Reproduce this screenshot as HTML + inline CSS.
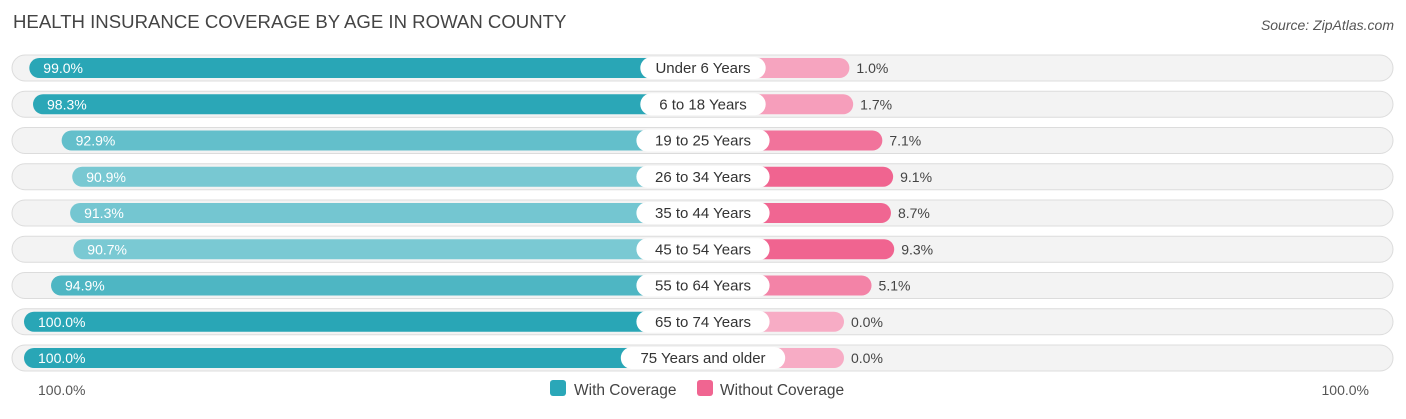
<!DOCTYPE html>
<html><head><meta charset="utf-8"><style>
body{margin:0;background:#fff;font-family:"Liberation Sans",sans-serif;}
</style></head><body>
<svg id="c" width="1406" height="414" style="font-family:'Liberation Sans',sans-serif">
<text x="13" y="28" font-size="18.6" fill="#444">HEALTH INSURANCE COVERAGE BY AGE IN ROWAN COUNTY</text>
<text x="1394" y="30" font-size="14" fill="#555" font-style="italic" text-anchor="end">Source: ZipAtlas.com</text>
<text x="38" y="395" font-size="14" fill="#555">100.0%</text>
<text x="1369" y="395" font-size="14" fill="#555" text-anchor="end">100.0%</text>
<g>
<rect x="550" y="380" width="16" height="16" rx="3" fill="#2aa7b8"/>
<text x="574" y="395" font-size="15.5" fill="#444">With Coverage</text>
<rect x="697" y="380" width="16" height="16" rx="3" fill="#f06591"/>
<text x="720" y="395" font-size="15.5" fill="#444">Without Coverage</text>
</g>
<g id="rows"></g>
</svg>
<script>
const categories=["Under 6 Years","6 to 18 Years","19 to 25 Years","26 to 34 Years","35 to 44 Years","45 to 54 Years","55 to 64 Years","65 to 74 Years","75 Years and older"];
const withCov=[99.0,98.3,92.9,90.9,91.3,90.7,94.9,100.0,100.0];
const withoutCov=[1.0,1.7,7.1,9.1,8.7,9.3,5.1,0.0,0.0];
const NS="http://www.w3.org/2000/svg";
const cx=705, lEdge=24, lScale=5.3, rBase=844, rScale=5.4;
const y0=68, dy=36.25;
function mk(t,a,p){const e=document.createElementNS(NS,t);for(const k in a)e.setAttribute(k,a[k]);p.appendChild(e);return e;}
function mix(a,b,t){t=Math.max(0,Math.min(1,t));return "rgb("+a.map((v,i)=>Math.round(v+(b[i]-v)*t)).join(",")+")";}
const g=document.getElementById("rows");
categories.forEach((c,i)=>{
 const y=y0+i*dy;
 const row=mk("g",{},g);
 
 
 const tr=mk("rect",{x:12,y:y-13,width:1381,height:26,rx:13,fill:"#f3f3f3",stroke:"#dcdcdc","stroke-width":1},row);
 
 
 const lx=lEdge+(100-withCov[i])*lScale;
 const lb=mk("rect",{x:lx,y:y-10,width:cx-lx,height:20,rx:10,fill:mix([124,202,212],[41,166,182],(withCov[i]-90.5)/8)},row);
 
 
 const lt=mk("text",{x:lx+14,y:y+5,"font-size":14,fill:"#fff"},row);
 lt.textContent=withCov[i].toFixed(1)+"%";
 
 
 const rx=rBase+withoutCov[i]*rScale;
 const rb=mk("rect",{x:cx-10,y:y-10,width:rx-cx+10,height:20,rx:10,fill:mix([247,172,197],[240,100,144],withoutCov[i]/9)},row);
 
 
 const rt=mk("text",{x:rx+7,y:y+5,"font-size":14,fill:"#444"},row);
 rt.textContent=withoutCov[i].toFixed(1)+"%";
 
 
 const w=c.length*7.8+24;
 const pill=mk("rect",{x:703-w/2,y:y-11,width:w,height:22,rx:11,fill:"#fff"},row);
 
 
 const ct=mk("text",{x:703,y:y+5,"font-size":15,fill:"#333","text-anchor":"middle"},row);
 ct.textContent=c;
 
 
});
</script>
</body></html>
